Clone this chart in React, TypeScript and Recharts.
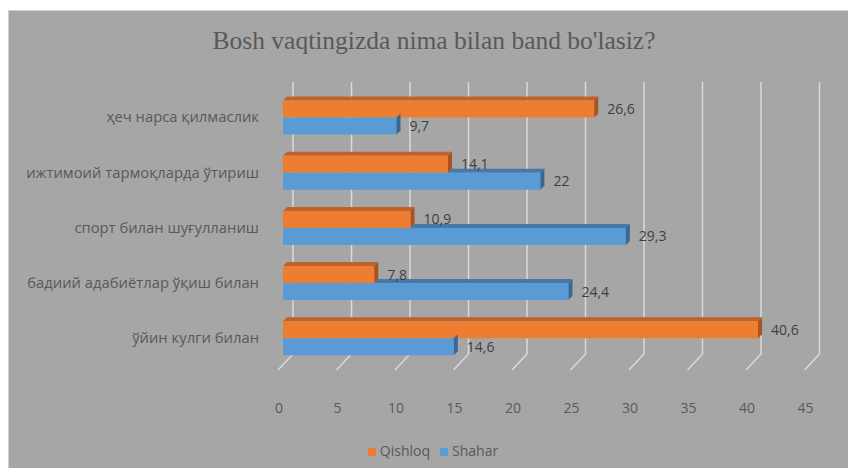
import { BarChart, Bar, XAxis, YAxis, CartesianGrid, LabelList, Legend } from "recharts";

const categories = [
  "ҳеч нарса қилмаслик",
  "ижтимоий тармоқларда ўтириш",
  "спорт билан шуғулланиш",
  "бадиий адабиётлар ўқиш билан",
  "ўйин кулги билан",
];
const qishloq = [26.6, 14.1, 10.9, 7.8, 40.6];
const shahar = [9.7, 22, 29.3, 24.4, 14.6];
const xTicks = [0, 5, 10, 15, 20, 25, 30, 35, 40, 45];

const data = categories.map((name, i) => ({ name, qishloq: qishloq[i], shahar: shahar[i] }));

const fmt = (v: number) => String(v).replace(".", ",");
const D = 4;

const Bar3D = (props: any) => {
  const { x, y, width, height, fill, top, side, payload, value, coverKey } = props;
  if (!width || width <= 0) return null;
  let topStart = x;
  if (coverKey) {
    const other = payload[coverKey];
    topStart = Math.max(x, x + (other * width) / value);
  }
  const xr = x + width;
  return (
    <g>
      {topStart < xr && (
        <polygon
          points={`${topStart},${y} ${topStart + D},${y - D} ${xr + D},${y - D} ${xr},${y}`}
          fill={top}
        />
      )}
      <rect x={x} y={y} width={width} height={height} fill={fill} />
      <polygon points={`${xr},${y} ${xr + D},${y - D} ${xr + D},${y + height - D} ${xr},${y + height}`} fill={side} />
    </g>
  );
};

const gridLine = (p: any) => (
  <path
    key={p.key}
    d={`M${p.x1 + 10},${p.y1 - 7.5} L${p.x1 + 10},${p.y2 - 11.5} L${p.x1 - 5},${p.y2 + 4.5}`}
    stroke="#DADADA"
    strokeWidth={1.5}
    fill="none"
  />
);

export default function App() {
  return (
    <div style={{ position: "absolute", left: 0, top: 0, width: 848, height: 468, background: "#fff", overflow: "hidden" }}>
      <div
        style={{
          position: "absolute",
          left: 8,
          top: 10,
          width: 848,
          height: 468,
          background: "#A6A6A6",
          borderTop: "1px solid #D0D0D0",
          borderLeft: "1px solid #D0D0D0",
        }}
      />
      <div
        style={{
          position: "absolute",
          left: 8,
          top: 26,
          width: 852,
          textAlign: "center",
          fontFamily: "Liberation Serif",
          fontSize: 25.5,
          color: "#595959",
        }}
      >
        Bosh vaqtingizda nima bilan band bo'lasiz?
      </div>
      <div style={{ position: "absolute", left: 0, top: 0 }}>
        <BarChart
          width={848}
          height={468}
          layout="vertical"
          data={data}
          margin={{ top: 89.5, right: 38.5, bottom: 53.5, left: 0 }}
          barGap={0}
        >
          <CartesianGrid horizontal={false} vertical={gridLine} />
          <XAxis
            type="number"
            domain={[0, 45]}
            ticks={xTicks}
            axisLine={false}
            tickLine={false}
            tickMargin={12}
            height={30}
            tick={{ fill: "#5A5A5A", fontSize: 14, fontFamily: "Open Sans", dx: -4, dy: 20 }}
          />
          <YAxis
            type="category"
            dataKey="name"
            width={283}
            axisLine={false}
            tickLine={false}
            tickMargin={18}
            tick={{ fill: "#595959", fontSize: 14.8, fontFamily: "Open Sans" }}
          />
          <Legend
            iconType="square"
            iconSize={8}
            wrapperStyle={{ top: 441, left: 28, width: 820, fontFamily: "Open Sans", fontSize: 14 }}
            formatter={(v: string) => <span style={{ color: "#595959" }}>{v}</span>}
          />
          <Bar
            dataKey="qishloq"
            name="Qishloq"
            fill="#ED7D31"
            barSize={17}
            isAnimationActive={false}
            shape={(p: any) => <Bar3D {...p} top="#C0622A" side="#A9531D" />}
          >
            <LabelList
              dataKey="qishloq"
              position="right"
              offset={13}
              formatter={fmt}
              style={{ fill: "#404040", fontSize: 14, fontFamily: "Open Sans" }}
            />
          </Bar>
          <Bar
            dataKey="shahar"
            name="Shahar"
            fill="#5B9BD5"
            barSize={17}
            isAnimationActive={false}
            shape={(p: any) => <Bar3D {...p} top="#4678A8" side="#3A6894" coverKey="qishloq" />}
          >
            <LabelList
              dataKey="shahar"
              position="right"
              offset={13}
              formatter={fmt}
              style={{ fill: "#404040", fontSize: 14, fontFamily: "Open Sans" }}
            />
          </Bar>
        </BarChart>
      </div>
    </div>
  );
}
